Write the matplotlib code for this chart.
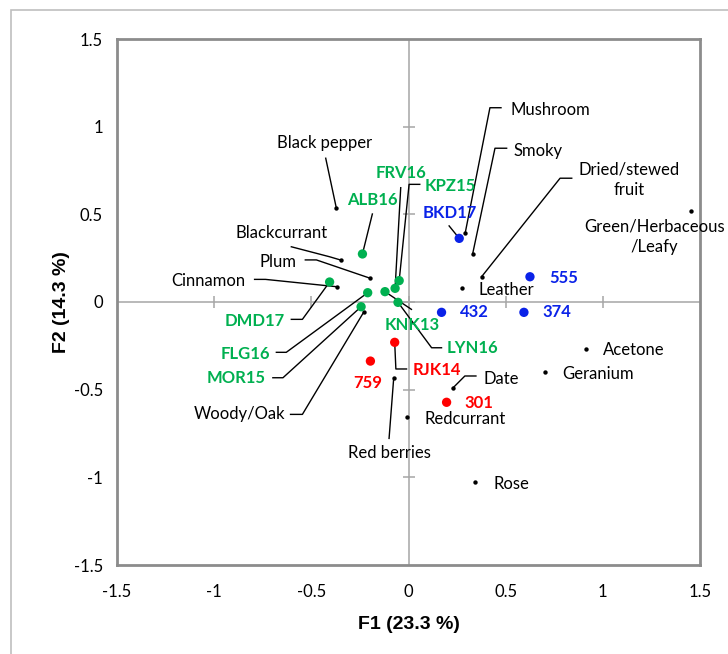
import matplotlib
matplotlib.use("Agg")
import matplotlib.pyplot as plt
from matplotlib.patches import Rectangle

# Attributes (variables) - small black dots
attr_names = ["Black pepper", "Blackcurrant", "Plum", "Cinnamon", "Mushroom", "Smoky",
              "Dried/stewed\nfruit", "Leather", "Green/Herbaceous\n/Leafy", "Acetone",
              "Geranium", "Date", "Rose", "Redcurrant", "Red berries", "Woody/Oak"]
attr_x = [-0.371, -0.345, -0.196, -0.368, 0.292, 0.330, 0.376, 0.273, 1.454, 0.912,
          0.704, 0.227, 0.342, -0.007, -0.076, -0.230]
attr_y = [0.534, 0.238, 0.135, 0.087, 0.395, 0.274, 0.144, 0.078, 0.521, -0.268,
          -0.398, -0.492, -1.025, -0.658, -0.432, -0.057]

# Samples (observations) - coloured dots
sample_names = ["ALB16", "FRV16", "KPZ15", "KNK13", "LYN16", "DMD17", "FLG16", "MOR15",
                "BKD17", "555", "432", "374", "RJK14", "759", "301"]
sample_x = [-0.237, -0.069, -0.048, -0.121, -0.054, -0.406, -0.210, -0.244,
            0.261, 0.625, 0.170, 0.594, -0.071, -0.196, 0.196]
sample_y = [0.274, 0.078, 0.122, 0.059, -0.002, 0.114, 0.053, -0.027,
            0.363, 0.144, -0.059, -0.059, -0.230, -0.337, -0.572]
sample_group = ["g", "g", "g", "g", "g", "g", "g", "g", "b", "b", "b", "b", "r", "r", "r"]

ticks = [-1.5, -1, -0.5, 0, 0.5, 1, 1.5]
tick_labels = ["-1.5", "-1", "-0.5", "0", "0.5", "1", "1.5"]

colors = {"g": "#00B050", "b": "#0a22e8", "r": "#FF0000"}

# label placement: text centre, then leader points (from label towards the dot)
attr_layout = {
    "Black pepper": (-0.431, 0.905, [(-0.426, 0.820)]),
    "Blackcurrant": (-0.655, 0.392, [(-0.603, 0.315), (-0.406, 0.258)]),
    "Plum": (-0.672, 0.230, [(-0.531, 0.240), (-0.474, 0.240)]),
    "Cinnamon": (-1.028, 0.120, [(-0.792, 0.129), (-0.736, 0.129)]),
    "Mushroom": (0.728, 1.095, [(0.476, 1.108), (0.419, 1.108)]),
    "Smoky": (0.668, 0.861, [(0.505, 0.877), (0.445, 0.877)]),
    "Dried/stewed\nfruit": (1.136, 0.696, [(0.840, 0.706), (0.780, 0.706)]),
    "Leather": (0.505, 0.068, []),
    "Green/Herbaceous\n/Leafy": (1.264, 0.372, []),
    "Acetone": (1.161, -0.274, []),
    "Geranium": (0.977, -0.412, []),
    "Date": (0.476, -0.441, [(0.347, -0.422), (0.290, -0.422)]),
    "Rose": (0.531, -1.040, []),
    "Redcurrant": (0.290, -0.669, []),
    "Red berries": (-0.096, -0.863, [(-0.100, -0.778)]),
    "Woody/Oak": (-0.870, -0.641, [(-0.607, -0.641), (-0.546, -0.641)]),
}
sample_layout = {
    "ALB16": (-0.186, 0.582, [(-0.186, 0.502)]),
    "FRV16": (-0.041, 0.734, [(-0.040, 0.652)]),
    "KPZ15": (0.216, 0.663, [(0.058, 0.671), (0.003, 0.671)]),
    "KNK13": (0.017, -0.131, [(0.015, -0.042)]),
    "LYN16": (0.330, -0.264, [(0.170, -0.261), (0.119, -0.261)]),
    "DMD17": (-0.792, -0.108, [(-0.603, -0.099), (-0.546, -0.099)]),
    "FLG16": (-0.839, -0.297, [(-0.680, -0.287), (-0.629, -0.287)]),
    "MOR15": (-0.887, -0.432, [(-0.698, -0.432), (-0.646, -0.432)]),
    "BKD17": (0.213, 0.509, [(0.209, 0.434)]),
    "555": (0.797, 0.139, []),
    "432": (0.338, -0.059, []),
    "374": (0.766, -0.059, []),
    "RJK14": (0.147, -0.388, [(-0.010, -0.382), (-0.065, -0.382)]),
    "759": (-0.208, -0.460, []),
    "301": (0.362, -0.578, []),
}

fig = plt.figure(figsize=(7.28, 6.54), dpi=100)
ax = fig.add_axes([117 / 728, 1 - 565 / 654, 583 / 728, 526 / 654])

# outer chart border
fig.patches.append(Rectangle((11 / 728, -0.1), 1.2, 1 - 10 / 654 + 0.1, transform=fig.transFigure,
                             fill=False, edgecolor="#BFBFBF", linewidth=1.2))

ax.set_xlim(-1.5, 1.5)
ax.set_ylim(-1.5, 1.5)
for s in ax.spines.values():
    s.set_color("#8C8C8C")
    s.set_linewidth(2)

# axes through the origin with crossing ticks
ax.axhline(0, color="#A6A6A6", lw=1.1, zorder=1)
ax.axvline(0, color="#A6A6A6", lw=1.1, zorder=1)
inner = [t for t in ticks if abs(t) < 1.5]
ax.plot(inner, [0] * len(inner), ls="none", marker="|", ms=9, mew=1.1, color="#A6A6A6", zorder=1)
ax.plot([0] * len(inner), inner, ls="none", marker="_", ms=9, mew=1.1, color="#A6A6A6", zorder=1)

ax.set_xticks(ticks)
ax.set_xticklabels(tick_labels)
ax.set_yticks(ticks)
ax.set_yticklabels(tick_labels)
ax.tick_params(length=0, labelsize=12)
ax.tick_params(axis="x", pad=14)
ax.tick_params(axis="y", pad=10)
for lab in ax.get_xticklabels() + ax.get_yticklabels():
    lab.set_family("Lato")

ax.set_xlabel("F1 (23.3 %)", fontsize=14, fontweight="bold", family="Liberation Sans", labelpad=11)
ax.set_ylabel("F2 (14.3 %)", fontsize=14, fontweight="bold", family="Liberation Sans", labelpad=3)

# leader lines
for name, x, y in zip(attr_names, attr_x, attr_y):
    tx, ty, pts = attr_layout[name]
    if pts:
        xs = [p[0] for p in pts] + [x]
        ys = [p[1] for p in pts] + [y]
        ax.plot(xs, ys, color="black", lw=1, zorder=2)
for name, x, y in zip(sample_names, sample_x, sample_y):
    tx, ty, pts = sample_layout[name]
    if pts:
        xs = [p[0] for p in pts] + [x]
        ys = [p[1] for p in pts] + [y]
        ax.plot(xs, ys, color="black", lw=1, zorder=2)

# points
ax.scatter(attr_x, attr_y, s=10, color="black", zorder=3, linewidths=0)
ax.scatter(sample_x, sample_y, s=45, color=[colors[g] for g in sample_group], zorder=3, linewidths=0)

# labels
for name in attr_names:
    tx, ty, pts = attr_layout[name]
    ax.text(tx, ty, name, ha="center", va="center", fontsize=12, family="Lato",
            color="black", linespacing=1.35, zorder=4)
for name, g in zip(sample_names, sample_group):
    tx, ty, pts = sample_layout[name]
    ax.text(tx, ty, name, ha="center", va="center", fontsize=12, family="Lato",
            fontweight="bold", color=colors[g], zorder=4)

fig.savefig("out.png", dpi=100)
